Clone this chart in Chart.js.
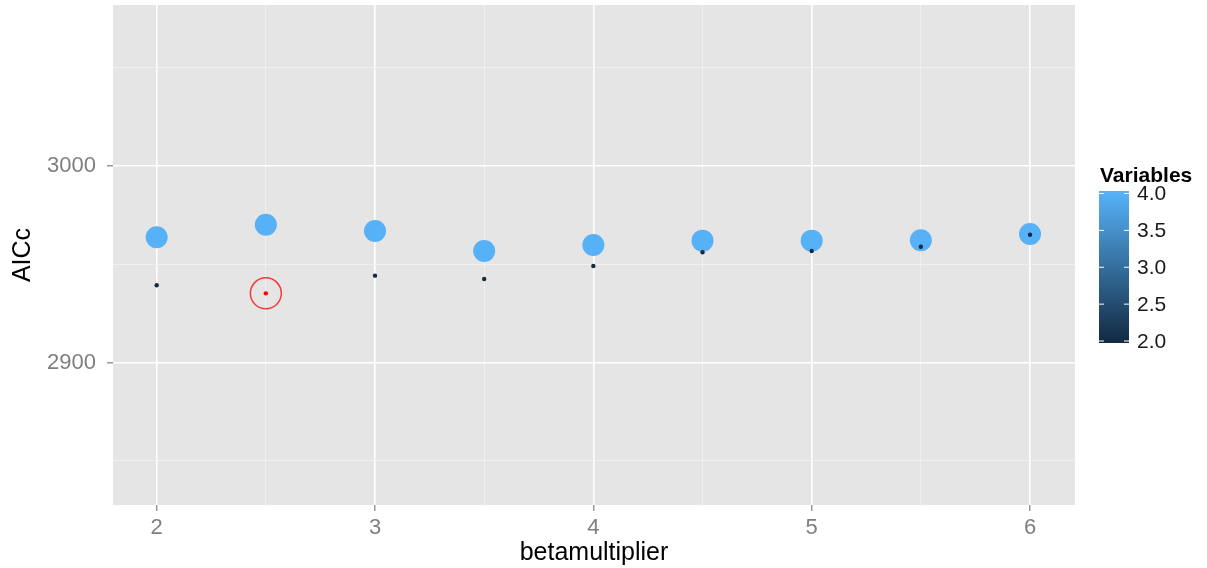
<!DOCTYPE html>
<html>
<head>
<meta charset="utf-8">
<script src="https://cdn.jsdelivr.net/npm/chart.js@4"></script>
<style>
  html, body { margin: 0; padding: 0; background: #fff; }
  #wrap { width: 1207px; height: 568px; }
</style>
</head>
<body>
<div id="wrap"><canvas id="aiccChart" width="1207" height="568"></canvas></div>
<script>
// data
const betaMultipliers = [2, 2.5, 3, 3.5, 4, 4.5, 5, 5.5, 6];
const aiccFourVars = [2963.7, 2970.1, 2966.9, 2956.7, 2959.8, 2962.0, 2962.0, 2962.2, 2965.4];
const aiccTwoVars = [2939.3, 2935.2, 2944.2, 2942.5, 2949.1, 2956.1, 2956.7, 2958.9, 2965.0];
const bestIndex = 1; // circled point
const legendTicks = [4.0, 3.5, 3.0, 2.5, 2.0];

const lowColor = '#132B43';
const highColor = '#56B1F7';
const FONT = '"Liberation Sans", Arial, Helvetica, sans-serif';

// grey panel behind the plot
const panelBg = {
    id: 'panelBg',
    beforeDraw(chart) {
        const { ctx, chartArea: a } = chart;
        ctx.save();
        ctx.fillStyle = '#E5E5E5';
        ctx.fillRect(a.left, a.top, a.right - a.left, a.bottom - a.top);
        ctx.restore();
    }
};

// colour bar legend
const colourBar = {
    id: 'colourBar',
    afterDraw(chart) {
        const ctx = chart.ctx;
        const x = 1099, w = 30, top = 191, bottom = 343;
        const yTop = 193.5, yBottom = 341; // positions of 4.0 and 2.0
        ctx.save();
        const grad = ctx.createLinearGradient(0, yTop, 0, yBottom);
        grad.addColorStop(0, highColor);
        grad.addColorStop(1, lowColor);
        ctx.fillStyle = grad;
        ctx.fillRect(x, top, w, bottom - top);

        ctx.font = 'bold 21px ' + FONT;
        ctx.fillStyle = '#000';
        ctx.textBaseline = 'middle';
        ctx.textAlign = 'left';
        ctx.fillText('Variables', 1100, 176);

        ctx.font = '21px ' + FONT;
        ctx.fillStyle = '#1A1A1A';
        legendTicks.forEach(v => {
            const y = yTop + (4 - v) / 2 * (yBottom - yTop);
            ctx.strokeStyle = '#FFFFFF';
            ctx.lineWidth = 1;
            ctx.beginPath();
            ctx.moveTo(x, y); ctx.lineTo(x + 5, y);
            ctx.moveTo(x + w - 5, y); ctx.lineTo(x + w, y);
            ctx.stroke();
            ctx.fillText(v.toFixed(1), 1137, y + 1);
        });
        ctx.restore();
    }
};

const isMajor = (v) => Math.abs(v - Math.round(v)) < 1e-6;

new Chart(document.getElementById('aiccChart'), {
    type: 'scatter',
    data: {
        datasets: [{
            label: 'best',
            data: [{ x: betaMultipliers[bestIndex], y: aiccTwoVars[bestIndex] }],
            pointRadius: 15.5,
            pointBorderWidth: 1.5,
            pointBorderColor: '#F23A3A',
            pointBackgroundColor: 'rgba(0,0,0,0)',
            order: 0
        }, {
            label: 'Variables 2',
            data: betaMultipliers.map((b, i) => ({ x: b, y: aiccTwoVars[i] })),
            pointRadius: 2.2,
            pointBorderWidth: 0,
            pointBackgroundColor: betaMultipliers.map((b, i) => i === bestIndex ? '#FF0000' : lowColor),
            order: 1
        }, {
            label: 'Variables 4',
            data: betaMultipliers.map((b, i) => ({ x: b, y: aiccFourVars[i] })),
            pointRadius: 11,
            pointBorderWidth: 0,
            pointBackgroundColor: highColor,
            order: 2
        }]
    },
    options: {
        responsive: false,
        animation: false,
        events: [],
        layout: { autoPadding: false, padding: { left: 0, right: 132, top: 5, bottom: 0 } },
        plugins: {
            legend: { display: false },
            tooltip: { enabled: false }
        },
        scales: {
            x: {
                type: 'linear',
                min: 1.8,
                max: 6.206,
                border: { display: false },
                afterFit(scale) {
                    scale.height = 63;
                    scale.paddingLeft = 0;
                    scale.paddingRight = 0;
                },
                grid: {
                    color: (c) => isMajor(c.tick.value) ? '#FFFFFF' : '#F2F2F2',
                    lineWidth: (c) => isMajor(c.tick.value) ? 1.6 : 0.8,
                    tickColor: (c) => isMajor(c.tick.value) ? '#7F7F7F' : 'rgba(0,0,0,0)',
                    tickLength: 6,
                    tickWidth: 1.2
                },
                ticks: {
                    stepSize: 0.5,
                    includeBounds: false,
                    maxRotation: 0,
                    autoSkip: false,
                    padding: 4,
                    color: '#7F7F7F',
                    font: { family: FONT, size: 22 },
                    callback: (v) => isMajor(v) ? String(Math.round(v)) : ''
                },
                title: {
                    display: true,
                    text: 'betamultiplier',
                    color: '#000',
                    font: { family: FONT, size: 25 },
                    padding: { top: 0, bottom: 0 }
                }
            },
            y: {
                type: 'linear',
                min: 2827.5,
                max: 3081.9,
                border: { display: false },
                afterFit(scale) {
                    scale.width = 113;
                    scale.paddingTop = 0;
                    scale.paddingBottom = 0;
                },
                grid: {
                    color: (c) => c.tick.value % 100 === 0 ? '#FFFFFF' : '#F2F2F2',
                    lineWidth: (c) => c.tick.value % 100 === 0 ? 1.6 : 0.8,
                    tickColor: (c) => c.tick.value % 100 === 0 ? '#7F7F7F' : 'rgba(0,0,0,0)',
                    tickLength: 6,
                    tickWidth: 1.2
                },
                ticks: {
                    stepSize: 50,
                    includeBounds: false,
                    autoSkip: false,
                    padding: 11,
                    color: '#7F7F7F',
                    font: { family: FONT, size: 22 },
                    callback: (v) => v % 100 === 0 ? String(v) : ''
                },
                title: {
                    display: true,
                    text: 'AICc',
                    color: '#000',
                    font: { family: FONT, size: 25 },
                    padding: { top: 8, bottom: 0 }
                }
            }
        }
    },
    plugins: [panelBg, colourBar]
});
</script>
</body>
</html>
